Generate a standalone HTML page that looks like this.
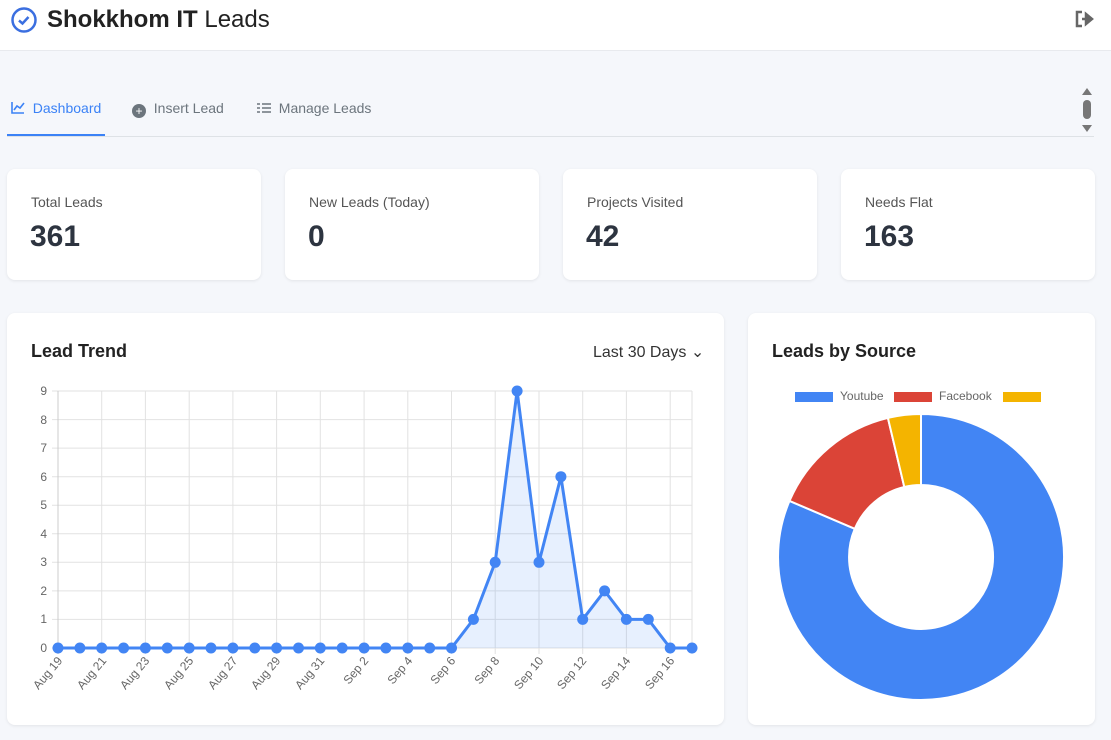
<!DOCTYPE html>
<html><head><meta charset="utf-8"><style>
*{box-sizing:border-box;margin:0;padding:0}
body{width:1111px;height:740px;background:#f5f7fb;font-family:"Liberation Sans",sans-serif;position:relative;overflow:hidden;color:#212529}
.hdr{position:absolute;left:0;top:0;width:1111px;height:51px;background:#fff;border-bottom:1px solid #e8eaee}
.title{position:absolute;left:47px;top:6px;font-size:24px;color:#222}
.tabs{position:absolute;left:0;top:100px;font-size:14px;color:#6c757d}
.tab{position:absolute;top:0;white-space:nowrap}
.line{position:absolute;left:7px;top:136px;width:1087px;height:1px;background:#dee2e6}
.card{position:absolute;background:#fff;border-radius:8px;box-shadow:0 1px 3px rgba(0,0,0,.08)}
.lbl{position:absolute;left:24px;top:25px;font-size:14px;color:#555}
.num{position:absolute;left:23px;top:51px;font-size:30px;font-weight:bold;color:#2d3440}
.ct{position:absolute;font-size:18px;font-weight:bold;color:#222}
</style></head><body>
<div class="hdr">
<svg style="position:absolute;left:10px;top:6px" width="28" height="28"><circle cx="14" cy="14" r="11.5" fill="none" stroke="#3b6fe0" stroke-width="2.5"/><path d="M9 14.5l3.5 3 6-6.5" fill="none" stroke="#3b6fe0" stroke-width="2.5"/></svg>
<div class="title"><b>Shokkhom IT</b> Leads</div>
<svg style="position:absolute;left:1074px;top:9px" width="22" height="20"><path d="M8 3H3v14h5" fill="none" stroke="#666" stroke-width="2.5"/><path d="M8 10h7M12 5l6 5-6 5z" fill="#666" stroke="#666" stroke-width="2.5"/></svg>
</div>
<div class="tabs">
<div class="tab" style="left:11px;color:#3b82f6"><svg width="14" height="13" style="vertical-align:-1px"><path d="M1 1v11h12" fill="none" stroke="#3b82f6" stroke-width="1.6"/><path d="M3 9l3-4 3 2 4-5" fill="none" stroke="#3b82f6" stroke-width="1.6"/></svg>&nbsp; Dashboard</div>
<div class="tab" style="left:132px"><span style="display:inline-block;width:14px;height:14px;border-radius:50%;background:#6c757d;color:#fff;font-size:12px;line-height:14px;text-align:center;vertical-align:-2px">+</span>&nbsp; Insert Lead</div>
<div class="tab" style="left:257px"><svg width="14" height="12" style="vertical-align:-1px"><path d="M5 2h9M5 6h9M5 10h9M0 2h3M0 6h3M0 10h3" stroke="#6c757d" stroke-width="1.6"/></svg>&nbsp; Manage Leads</div>
</div>
<div style="position:absolute;left:7px;top:134px;width:98px;height:2px;background:#3b82f6"></div>
<div class="line"></div>
<svg style="position:absolute;left:1080px;top:86px" width="14" height="48"><path d="M2 9L7 2 12 9Z M2 39L7 46 12 39Z" fill="#777"/><rect x="3" y="14" width="8" height="19" rx="4" fill="#777"/></svg>

<div class="card" style="left:7px;top:169px;width:254px;height:111px"><div class="lbl">Total Leads</div><div class="num">361</div></div>
<div class="card" style="left:285px;top:169px;width:254px;height:111px"><div class="lbl">New Leads (Today)</div><div class="num">0</div></div>
<div class="card" style="left:563px;top:169px;width:254px;height:111px"><div class="lbl">Projects Visited</div><div class="num">42</div></div>
<div class="card" style="left:841px;top:169px;width:254px;height:111px"><div class="lbl">Needs Flat</div><div class="num">163</div></div>

<div class="card" style="left:7px;top:313px;width:717px;height:412px"></div>
<div class="card" style="left:748px;top:313px;width:347px;height:412px"></div>
<div class="ct" style="left:31px;top:341px">Lead Trend</div>
<div class="ct" style="left:772px;top:341px">Leads by Source</div>
<div style="position:absolute;left:593px;top:342px;font-size:16px;color:#333">Last 30 Days ⌄</div>

<svg style="position:absolute;left:0;top:0" width="1111" height="740" font-family="Liberation Sans, sans-serif">
<g stroke="#e2e2e2" stroke-width="1">
<line x1="52" x2="692" y1="648" y2="648"/><line x1="52" x2="692" y1="619.4" y2="619.4"/><line x1="52" x2="692" y1="590.9" y2="590.9"/><line x1="52" x2="692" y1="562.3" y2="562.3"/><line x1="52" x2="692" y1="533.8" y2="533.8"/><line x1="52" x2="692" y1="505.2" y2="505.2"/><line x1="52" x2="692" y1="476.7" y2="476.7"/><line x1="52" x2="692" y1="448.1" y2="448.1"/><line x1="52" x2="692" y1="419.6" y2="419.6"/><line x1="52" x2="692" y1="391" y2="391"/>
<line x1="101.7" x2="101.7" y1="391" y2="654"/><line x1="145.4" x2="145.4" y1="391" y2="654"/><line x1="189.2" x2="189.2" y1="391" y2="654"/><line x1="232.9" x2="232.9" y1="391" y2="654"/><line x1="276.6" x2="276.6" y1="391" y2="654"/><line x1="320.3" x2="320.3" y1="391" y2="654"/><line x1="364.1" x2="364.1" y1="391" y2="654"/><line x1="407.8" x2="407.8" y1="391" y2="654"/><line x1="451.5" x2="451.5" y1="391" y2="654"/><line x1="495.2" x2="495.2" y1="391" y2="654"/><line x1="539" x2="539" y1="391" y2="654"/><line x1="582.7" x2="582.7" y1="391" y2="654"/><line x1="626.4" x2="626.4" y1="391" y2="654"/><line x1="670.2" x2="670.2" y1="391" y2="654"/><line x1="692" x2="692" y1="391" y2="654"/>
</g>
<line x1="58" x2="58" y1="391" y2="654" stroke="#ccc"/>
<g font-size="12" fill="#666" text-anchor="end">
<text x="47" y="652">0</text><text x="47" y="623">1</text><text x="47" y="595">2</text><text x="47" y="566">3</text><text x="47" y="538">4</text><text x="47" y="509">5</text><text x="47" y="481">6</text><text x="47" y="452">7</text><text x="47" y="424">8</text><text x="47" y="395">9</text>
</g>
<g font-size="12" fill="#666" text-anchor="end">
<text transform="translate(63,661) rotate(-50)">Aug 19</text>
<text transform="translate(107,661) rotate(-50)">Aug 21</text>
<text transform="translate(150,661) rotate(-50)">Aug 23</text>
<text transform="translate(194,661) rotate(-50)">Aug 25</text>
<text transform="translate(238,661) rotate(-50)">Aug 27</text>
<text transform="translate(281,661) rotate(-50)">Aug 29</text>
<text transform="translate(325,661) rotate(-50)">Aug 31</text>
<text transform="translate(369,661) rotate(-50)">Sep 2</text>
<text transform="translate(413,661) rotate(-50)">Sep 4</text>
<text transform="translate(456,661) rotate(-50)">Sep 6</text>
<text transform="translate(500,661) rotate(-50)">Sep 8</text>
<text transform="translate(544,661) rotate(-50)">Sep 10</text>
<text transform="translate(587,661) rotate(-50)">Sep 12</text>
<text transform="translate(631,661) rotate(-50)">Sep 14</text>
<text transform="translate(675,661) rotate(-50)">Sep 16</text>
</g>
<path d="M58 648 L451.5 648 L473.4 619.4 L495.2 562.3 L517.1 391 L539 562.3 L560.9 476.7 L582.7 619.4 L604.6 590.9 L626.4 619.4 L648.3 619.4 L670.2 648 L692 648 Z" fill="rgba(59,130,246,0.12)"/>
<polyline points="58,648 451.5,648 473.4,619.4 495.2,562.3 517.1,391 539,562.3 560.9,476.7 582.7,619.4 604.6,590.9 626.4,619.4 648.3,619.4 670.2,648 692,648" fill="none" stroke="#4285f4" stroke-width="3" stroke-linejoin="round"/>
<g fill="#4285f4">
<circle cx="58" cy="648" r="5.5"/><circle cx="79.9" cy="648" r="5.5"/><circle cx="101.7" cy="648" r="5.5"/><circle cx="123.6" cy="648" r="5.5"/><circle cx="145.4" cy="648" r="5.5"/><circle cx="167.3" cy="648" r="5.5"/><circle cx="189.2" cy="648" r="5.5"/><circle cx="211" cy="648" r="5.5"/><circle cx="232.9" cy="648" r="5.5"/><circle cx="254.8" cy="648" r="5.5"/><circle cx="276.6" cy="648" r="5.5"/><circle cx="298.5" cy="648" r="5.5"/><circle cx="320.3" cy="648" r="5.5"/><circle cx="342.2" cy="648" r="5.5"/><circle cx="364.1" cy="648" r="5.5"/><circle cx="385.9" cy="648" r="5.5"/><circle cx="407.8" cy="648" r="5.5"/><circle cx="429.7" cy="648" r="5.5"/><circle cx="451.5" cy="648" r="5.5"/><circle cx="473.4" cy="619.4" r="5.5"/><circle cx="495.2" cy="562.3" r="5.5"/><circle cx="517.1" cy="391" r="5.5"/><circle cx="539" cy="562.3" r="5.5"/><circle cx="560.9" cy="476.7" r="5.5"/><circle cx="582.7" cy="619.4" r="5.5"/><circle cx="604.6" cy="590.9" r="5.5"/><circle cx="626.4" cy="619.4" r="5.5"/><circle cx="648.3" cy="619.4" r="5.5"/><circle cx="670.2" cy="648" r="5.5"/><circle cx="692" cy="648" r="5.5"/>
</g>
<rect x="795" y="392" width="38" height="10" fill="#4285f4"/><text x="840" y="400" font-size="12" fill="#666">Youtube</text>
<rect x="894" y="392" width="38" height="10" fill="#db4437"/><text x="939" y="400" font-size="12" fill="#666">Facebook</text>
<rect x="1003" y="392" width="38" height="10" fill="#f4b400"/>
<g stroke="#fff" stroke-width="2">
<path d="M921 414 A143 143 0 1 1 789.5 500.9 L854.8 528.8 A72 72 0 1 0 921 485 Z" fill="#4285f4"/>
<path d="M789.5 500.9 A143 143 0 0 1 887.9 417.9 L904.3 487 A72 72 0 0 0 854.8 528.8 Z" fill="#db4437"/>
<path d="M887.9 417.9 A143 143 0 0 1 921 414 L921 485 A72 72 0 0 0 904.3 487 Z" fill="#f4b400"/>
</g>
</svg>
</body></html>
